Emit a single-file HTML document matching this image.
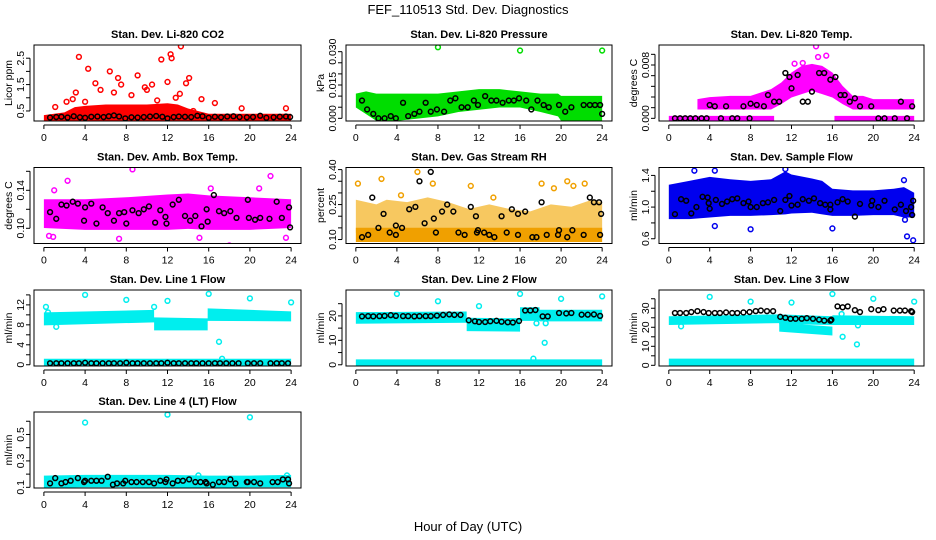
<!DOCTYPE html>
<html><head><meta charset="utf-8">
<style>
html,body{margin:0;padding:0;background:#fff;}
svg{display:block;font-family:"Liberation Sans",sans-serif;}
</style></head>
<body>
<svg id="chart" width="936" height="540" viewBox="0 0 936 540">
<text x="468" y="14" text-anchor="middle" font-size="13">FEF_110513  Std. Dev. Diagnostics</text>
<text x="468" y="531" text-anchor="middle" font-size="13">Hour of Day (UTC)</text>
</svg>
<script>
// ---- data (hours 0-24) ----
const xTicks = [0,4,8,12,16,20,24];

// P1 CO2
const co2BandH = [0,2,3,4,6,8,10,12,13,14,15,16,18,20,24];
const co2BandLo = [0.15,0.15,0.15,0.15,0.15,0.15,0.15,0.15,0.15,0.15,0.15,0.15,0.15,0.15,0.15];
const co2BandHi = [0.25,0.35,0.55,0.6,0.65,0.65,0.65,0.7,0.65,0.5,0.4,0.3,0.3,0.3,0.3];
const co2OutH = [3.4,4.3,6.4,7.2,5.0,9.1,11.4,12.3,12.4,13.3,12.0,14.1,13.8,10.5,15.3,16.6,3.1,1.1,19.2,23.5,7.5,9.8,2.8,4.0,5.5,6.8,8.5,10.0,11.0,12.8,13.2,14.5,2.2];
const co2OutV = [2.55,2.1,2.0,1.75,1.55,1.85,2.45,2.65,2.5,2.95,1.6,1.75,1.55,1.5,0.95,0.8,1.2,0.65,0.6,0.6,1.5,1.4,0.95,0.85,1.3,1.2,1.1,1.3,0.9,1.0,1.15,0.5,0.85];
const co2BlkH = [0.6,1.2,1.7,2.3,2.9,3.5,4.0,4.6,5.2,5.8,6.3,6.8,7.3,7.9,8.5,9.1,9.7,10.3,10.9,11.5,12.0,12.6,13.1,13.7,14.3,14.9,15.4,16.0,16.6,17.2,17.8,18.4,19.0,19.7,20.3,21.0,21.6,22.3,22.9,23.5,23.9];
const co2BlkV = [0.25,0.27,0.28,0.25,0.3,0.26,0.24,0.28,0.29,0.27,0.3,0.33,0.29,0.22,0.26,0.25,0.27,0.29,0.31,0.28,0.22,0.27,0.29,0.28,0.27,0.32,0.3,0.24,0.28,0.26,0.29,0.3,0.27,0.26,0.27,0.32,0.24,0.26,0.28,0.29,0.27];

// P2 Pressure
const prBandH = [0,1,2,4,6,8,10,12,14,16,18,19.7,20,22,24];
const prBandLo = [0.006,0.003,0.0,0.0,0.001,0.002,0.004,0.005,0.006,0.006,0.004,0.002,0.0,0.0,0.0];
const prBandHi = [0.010,0.011,0.010,0.010,0.010,0.010,0.011,0.012,0.012,0.011,0.010,0.010,0.009,0.009,0.009];
const prOutH = [8,16,24];
const prOutV = [0.032,0.0305,0.0305];
const prBlkH = [0.6,1.1,1.7,2.2,2.8,3.4,3.9,4.6,5.1,5.7,6.2,6.8,7.3,7.9,8.6,9.2,9.7,10.3,10.9,11.5,11.9,12.6,13.2,13.7,14.3,14.9,15.4,15.9,16.6,17.1,17.7,18.3,18.8,19.8,20.4,21.0,22.2,22.8,23.3,23.8,24.0];
const prBlkV = [0.008,0.004,0.002,0.0,0.0,0.001,0.0,0.007,0.001,0.002,0.003,0.007,0.003,0.004,0.003,0.008,0.009,0.005,0.005,0.008,0.006,0.010,0.008,0.008,0.007,0.008,0.008,0.009,0.008,0.004,0.008,0.006,0.005,0.006,0.003,0.005,0.006,0.006,0.006,0.006,0.002];

// P3 Li-820 Temp
const tpBandH = [2.8,4,6,8,9,10,11,12,13,14,15,16,17,18,19,20,24];
const tpBandLo = [0.0017,0.0017,0.0017,0.0017,0.0017,0.0017,0.0025,0.0035,0.004,0.0045,0.004,0.0035,0.0025,0.0017,0.0017,0.0017,0.0017];
const tpBandHi = [0.0025,0.0028,0.003,0.003,0.0035,0.004,0.005,0.0065,0.0075,0.0078,0.0075,0.0065,0.0045,0.003,0.003,0.0025,0.0025];
const tpZeroStart = [0,16.2];
const tpZeroEnd = [10.3,24];
const tpOutH = [14.4,14.6,15.4,12.3,13.1];
const tpOutV = [0.0108,0.0092,0.0094,0.0082,0.0083];
const tpBlkH = [0.6,1.1,1.6,2.1,2.6,3.2,3.7,4.0,4.5,5.1,5.6,6.2,6.7,7.3,7.9,8.0,8.6,9.3,9.7,10.3,10.8,11.4,11.8,12.0,12.6,13.1,13.6,14.0,14.7,15.2,15.8,16.3,16.8,17.2,17.7,18.2,18.7,19.8,20.5,21.1,22.1,22.7,23.3,23.8];
const tpBlkV = [0,0,0,0,0,0,0,0.002,0.0018,0,0.0018,0,0,0.0018,0,0.0022,0.002,0.0018,0.0035,0.0025,0.0025,0.0068,0.0062,0.0045,0.0065,0.0025,0.0025,0.004,0.0068,0.0068,0.0058,0.0062,0.0035,0.0035,0.0025,0.003,0.0018,0.0018,0,0,0,0.0025,0,0.0018];

// P4 Amb Box Temp
const abBandH = [0,4,8,12,14,16,20,24];
const abBandLo = [0.103,0.101,0.101,0.101,0.102,0.101,0.101,0.103];
const abBandHi = [0.128,0.128,0.130,0.133,0.134,0.132,0.130,0.128];
const abOutH = [0.5,0.9,2.3,8.6,18.0,22.0,20.9,16.2,1.0,7.3,15.1,23.5];
const abOutV = [0.092,0.091,0.150,0.162,0.082,0.155,0.142,0.142,0.140,0.089,0.090,0.090];
const abBlkH = [0.6,1.2,1.7,2.2,2.8,3.3,3.9,4.0,4.6,5.1,5.7,6.2,6.8,7.3,7.8,8.0,8.6,9.2,9.7,10.2,10.8,11.3,11.8,11.9,12.5,13.1,13.7,14.2,14.7,15.3,15.8,15.9,16.5,17.0,17.5,18.1,18.7,19.8,19.9,20.5,21.0,21.9,22.6,23.1,23.8,23.9];
const abBlkV = [0.117,0.110,0.125,0.124,0.128,0.126,0.108,0.122,0.126,0.105,0.122,0.116,0.108,0.116,0.117,0.105,0.119,0.116,0.120,0.123,0.106,0.119,0.112,0.105,0.125,0.130,0.113,0.108,0.113,0.102,0.120,0.107,0.135,0.118,0.116,0.118,0.111,0.130,0.111,0.109,0.111,0.110,0.128,0.111,0.122,0.101];

// P5 Gas Stream RH
const rhBandH = [0,4,8,12,16,20,24];
const rhBandLo = [0.10,0.10,0.10,0.10,0.10,0.10,0.10];
const rhBandHi = [0.14,0.14,0.14,0.14,0.14,0.14,0.14];
const rhUpH = [0,2,3,5,7,9,11,13,15,17,19,21,23,24];
const rhUpHi = [0.26,0.24,0.26,0.25,0.27,0.25,0.22,0.24,0.22,0.21,0.24,0.23,0.26,0.25];
const rhOutH = [0.2,2.5,6,7.5,11.2,18.1,19.3,20.6,22.3,21.2,4.4,13.4];
const rhOutV = [0.34,0.36,0.39,0.34,0.33,0.34,0.32,0.35,0.34,0.33,0.29,0.28];
const rhBlkH = [0.6,1.2,1.6,2.2,2.7,3.3,3.9,3.9,4.5,5.2,5.8,6.2,6.7,7.3,7.6,7.8,8.4,8.9,9.5,10.0,10.6,11.2,11.7,11.8,11.9,12.5,13.0,13.5,14.2,14.7,15.2,15.8,15.8,16.5,17.2,17.6,18.1,18.6,19.7,19.8,20.6,21.1,22.2,22.8,23.2,23.7,23.8,23.9];
const rhBlkV = [0.11,0.12,0.28,0.15,0.21,0.13,0.16,0.12,0.15,0.23,0.24,0.35,0.17,0.39,0.19,0.13,0.22,0.25,0.22,0.13,0.12,0.24,0.20,0.13,0.14,0.13,0.12,0.11,0.20,0.13,0.23,0.21,0.12,0.22,0.11,0.11,0.26,0.12,0.12,0.14,0.11,0.14,0.12,0.28,0.26,0.26,0.12,0.21];

// P6 Sample Flow
const sfBandH = [0,2,4,6,8,10,11.4,12,14,15,16,18,20,22,23,24];
const sfBandLo = [0.88,0.88,0.90,0.92,0.92,0.93,0.94,0.95,0.96,0.94,0.92,0.92,0.93,0.93,0.90,0.90];
const sfBandHi = [1.25,1.3,1.35,1.32,1.3,1.32,1.42,1.38,1.33,1.3,1.2,1.18,1.18,1.2,1.22,1.15];
const sfOutH = [4.5,8,16,23.3,23.9,11.4,2.5,4.5,23,23.1];
const sfOutV = [0.76,0.72,0.73,0.63,0.58,1.48,1.46,1.46,1.34,0.84];
const sfBlkH = [0.6,1.2,1.7,2.2,2.7,3.3,3.8,3.9,4.0,4.6,5.2,5.7,6.2,6.7,7.3,7.8,8.0,8.6,9.2,9.7,10.3,10.9,11.4,11.8,12.0,12.6,13.1,13.7,14.2,14.8,15.3,15.8,15.8,16.5,17.0,17.5,18.2,18.7,19.8,19.9,20.5,21.1,22.1,22.7,23.2,23.7,23.8,23.9];
const sfBlkV = [0.91,1.10,1.08,0.92,1.00,1.13,1.12,1.05,0.98,1.09,1.04,1.07,1.10,1.11,1.05,1.07,1.00,1.00,1.05,1.06,1.09,0.95,1.09,1.14,1.02,1.03,1.10,1.08,1.11,1.05,1.03,0.97,1.03,1.06,1.10,1.07,0.88,1.04,1.02,1.08,1.00,1.08,0.97,1.03,0.95,1.00,0.90,1.08];

// P7 Line 1 Flow
const l1BandH = [0,10.7,10.7,15.9,15.9,24];
const l1BandLo = [8.4,9.0,7.4,7.4,9.3,9.2];
const l1BandHi = [10.0,10.5,9.0,8.8,10.8,10.2];
const l1ZeroLo = [0,0,0,0,0,0];
const l1ZeroHi = [0.7,0.7,0.7,0.7,0.7,0.7];
const l1OutH = [4,8,12,16,20,24,10.7,0.2,17,17.3,0.4,1.2];
const l1OutV = [14,13,12.8,14.2,13.3,12.5,11.6,11.6,4.6,1.2,10.5,7.6];
const l1BlkH = [0.6,1.2,1.7,2.3,2.9,3.4,4.0,4.6,5.1,5.7,6.3,6.8,7.4,8.0,8.6,9.1,9.7,10.3,10.9,11.4,12.0,12.6,13.1,13.7,14.3,14.8,15.4,16.0,16.6,17.1,17.7,18.3,18.9,19.8,20.4,21.0,22.0,22.6,23.1,23.7];
const l1BlkV = [0.3,0.3,0.3,0.3,0.3,0.3,0.4,0.3,0.3,0.3,0.3,0.3,0.3,0.4,0.3,0.3,0.3,0.3,0.3,0.3,0.4,0.3,0.3,0.3,0.3,0.3,0.3,0.3,0.3,0.3,0.3,0.3,0.3,0.3,0.3,0.3,0.3,0.3,0.3,0.3];

// P8 Line 2 Flow
const l2BandH = [0,10.8,10.8,16,16,17.9,17.9,24];
const l2BandLo = [17.8,18.2,14.8,14.6,19.0,19.0,18.8,18.8];
const l2BandHi = [20.5,20.8,18.2,18.0,22.5,22.5,21.5,21.5];
const l2ZeroLo = [0,0,0,0,0,0,0,0];
const l2ZeroHi = [1.2,1.2,1.2,1.2,1.2,1.2,1.2,1.2];
const l2OutH = [4,8,12,16,20,24,17.3,18.4,17.6,18.5];
const l2OutV = [29,26,24,29,27,28,2.5,9,17,17];
const l2BlkH = [0.6,1.2,1.7,2.3,2.8,3.4,3.9,4.6,5.1,5.7,6.2,6.8,7.3,7.9,8.5,9.1,9.6,10.2,11.0,11.6,12.0,12.6,13.1,13.7,14.2,14.8,15.3,15.9,16.5,17.0,17.5,18.2,18.7,19.8,20.5,21.0,22.0,22.6,23.2,23.8];
const l2BlkV = [19.8,19.9,19.8,19.9,20.0,20.3,20.0,19.9,19.9,19.8,19.9,19.9,19.9,20.1,20.4,20.6,20.4,20.4,18.2,17.8,17.5,17.5,17.8,18.0,17.6,17.4,17.3,17.9,22.2,22.2,22.4,19.8,19.8,21.2,21.0,21.2,20.5,20.5,20.6,20.0];

// P9 Line 3 Flow
const l3BandH = [0,10.8,10.8,16,16,24];
const l3BandLo = [22.5,23.5,23.0,22.5,22.5,22.5];
const l3BandHi = [24.5,25.5,25.5,24.5,25.0,24.5];
const l3Band2H = [10.8,16];
const l3Band2Lo = [19.0,17.0];
const l3Band2Hi = [21.0,19.0];
const l3ZeroH = [0,24];
const l3ZeroLo = [0,0];
const l3ZeroHi = [2.2,2.2];
const l3OutH = [4,8,12,16,20,24,17,18.4,16.9,18.5,1.2];
const l3OutV = [36,33.5,33,37.5,35,33.5,15,11,27,21,20.5];
const l3BlkH = [0.6,1.1,1.7,2.2,2.8,3.4,3.9,4.5,5.0,5.6,6.2,6.7,7.3,7.9,8.5,9.0,9.6,10.2,10.9,11.4,11.9,12.4,13.0,13.5,14.1,14.7,15.2,15.8,15.9,16.5,17.0,17.5,18.2,18.7,19.8,20.5,21.0,22.0,22.6,23.1,23.7,23.8];
const l3BlkV = [27.5,27.5,27.5,28.0,28.5,28.0,27.5,27.5,27.5,27.8,27.5,27.5,27.8,28.0,28.5,28.8,28.5,28.5,25.5,25.0,24.5,24.5,24.5,24.8,24.5,24.0,23.5,23.5,24.0,31.0,30.5,31.0,29.0,28.0,29.5,29.0,29.5,28.8,28.8,28.8,28.5,28.0];

// P10 Line 4 (LT) Flow
const l4BandH = [0,4,8,12,16,20,24];
const l4BandLo = [0.115,0.12,0.12,0.115,0.115,0.12,0.12];
const l4BandHi = [0.17,0.175,0.175,0.175,0.17,0.17,0.175];
const l4OutH = [4,12,20,15,23.6];
const l4OutV = [0.59,0.65,0.63,0.19,0.19];
const l4BlkH = [0.6,1.1,1.7,2.1,2.6,3.3,3.9,4.0,4.6,5.1,5.6,6.2,6.7,7.1,7.7,7.9,8.5,9.0,9.6,10.2,10.7,11.3,11.8,11.9,12.5,13.0,13.5,14.1,14.7,15.2,15.7,15.8,16.4,17.0,17.5,18.1,18.6,19.7,19.8,20.4,21.0,22.2,22.7,23.2,23.7,23.8];
const l4BlkV = [0.13,0.17,0.13,0.14,0.15,0.17,0.14,0.15,0.15,0.15,0.15,0.18,0.12,0.13,0.13,0.15,0.14,0.14,0.14,0.14,0.13,0.15,0.14,0.16,0.13,0.15,0.15,0.16,0.14,0.14,0.14,0.13,0.12,0.14,0.14,0.16,0.13,0.14,0.14,0.14,0.13,0.14,0.14,0.16,0.16,0.13];

// ---- layout ----
const colL = [34, 346, 659], colR = [301, 612, 924];
const rowT = [45, 167.5, 290, 412], boxH = 76;
const NS = 'http://www.w3.org/2000/svg';
const svg = document.getElementById('chart');
function mk(tag, attrs, parent) {
  const e = document.createElementNS(NS, tag);
  for (const k in attrs) e.setAttribute(k, attrs[k]);
  (parent || svg).appendChild(e);
  return e;
}

const panels = [
  {key:'co2', title:'Stan. Dev. Li-820 CO2', ylab:'Licor ppm', c:0, r:0, ylim:[0.12,3.0], ticks:[0.5,1,1.5,2,2.5], labels:{0.5:'0.5',1.5:'1.5',2.5:'2.5'}, color:'#ff0000',
   bands:[[co2BandH,co2BandLo,co2BandHi]], outH:co2OutH, outV:co2OutV, bH:co2BlkH, bV:co2BlkV},
  {key:'pressure', title:'Stan. Dev. Li-820 Pressure', ylab:'kPa', c:1, r:0, ylim:[-0.0012,0.033], ticks:[0,0.005,0.01,0.015,0.02,0.025,0.03], labels:{0:'0.000',0.015:'0.015',0.03:'0.030'}, color:'#00dd00',
   bands:[[prBandH,prBandLo,prBandHi]], outH:prOutH, outV:prOutV, bH:prBlkH, bV:prBlkV},
  {key:'li820-temp', title:'Stan. Dev. Li-820 Temp.', ylab:'degrees C', c:2, r:0, ylim:[-0.0004,0.011], ticks:[0,0.0016,0.0032,0.0048,0.0064,0.008,0.0096], labels:{0:'0.000',0.008:'0.008'}, color:'#ff00ff',
   bands:[[tpBandH,tpBandLo,tpBandHi]], zeroSeg:[tpZeroStart,tpZeroEnd], outH:tpOutH, outV:tpOutV, bH:tpBlkH, bV:tpBlkV},
  {key:'amb-box-temp', title:'Stan. Dev. Amb. Box Temp.', ylab:'degrees C', c:0, r:1, ylim:[0.084,0.164], ticks:[0.10,0.12,0.14,0.16], labels:{0.1:'0.10',0.14:'0.14'}, color:'#ff00ff',
   bands:[[abBandH,abBandLo,abBandHi]], outH:abOutH, outV:abOutV, bH:abBlkH, bV:abBlkV},
  {key:'gas-rh', title:'Stan. Dev. Gas Stream RH', ylab:'percent', c:1, r:1, ylim:[0.083,0.409], ticks:[0.10,0.15,0.20,0.25,0.30,0.35,0.40], labels:{0.1:'0.10',0.25:'0.25',0.4:'0.40'}, color:'#f0a000',
   bands:[[rhUpH,rhUpH.map(()=>0.14),rhUpHi,'#f7c860'],[rhBandH,rhBandLo,rhBandHi]], outH:rhOutH, outV:rhOutV, bH:rhBlkH, bV:rhBlkV},
  {key:'sample-flow', title:'Stan. Dev. Sample Flow', ylab:'ml/min', c:2, r:1, ylim:[0.54,1.5], ticks:[0.6,0.8,1.0,1.2,1.4], labels:{0.6:'0.6',1:'1.0',1.4:'1.4'}, color:'#0000ee',
   bands:[[sfBandH,sfBandLo,sfBandHi]], outH:sfOutH, outV:sfOutV, bH:sfBlkH, bV:sfBlkV},
  {key:'line1-flow', title:'Stan. Dev. Line 1 Flow', ylab:'ml/min', c:0, r:2, ylim:[-0.25,14.98], ticks:[0,2,4,6,8,10,12,14], labels:{0:'0',4:'4',8:'8',12:'12'}, color:'#00eeee',
   bands:[[l1BandH,l1BandLo,l1BandHi],[l1BandH,l1ZeroLo,l1ZeroHi]], outH:l1OutH, outV:l1OutV, bH:l1BlkH, bV:l1BlkV},
  {key:'line2-flow', title:'Stan. Dev. Line 2 Flow', ylab:'ml/min', c:1, r:2, ylim:[-0.5,30.6], ticks:[0,5,10,15,20,25], labels:{0:'0',10:'10',20:'20'}, color:'#00eeee',
   bands:[[l2BandH,l2BandLo,l2BandHi],[l2BandH,l2ZeroLo,l2ZeroHi]], outH:l2OutH, outV:l2OutV, bH:l2BlkH, bV:l2BlkV},
  {key:'line3-flow', title:'Stan. Dev. Line 3 Flow', ylab:'ml/min', c:2, r:2, ylim:[-0.36,39.6], ticks:[0,5,10,15,20,25,30,35], labels:{0:'0',10:'10',20:'20',30:'30'}, color:'#00eeee',
   bands:[[l3BandH,l3BandLo,l3BandHi],[l3Band2H,l3Band2Lo,l3Band2Hi],[l3ZeroH,l3ZeroLo,l3ZeroHi]], outH:l3OutH, outV:l3OutV, bH:l3BlkH, bV:l3BlkV},
  {key:'line4-flow', title:'Stan. Dev. Line 4 (LT) Flow', ylab:'ml/min', c:0, r:3, ylim:[0.095,0.67], ticks:[0.1,0.2,0.3,0.4,0.5,0.6], labels:{0.1:'0.1',0.3:'0.3',0.5:'0.5'}, color:'#00eeee',
   bands:[[l4BandH,l4BandLo,l4BandHi]], outH:l4OutH, outV:l4OutV, bH:l4BlkH, bV:l4BlkV}
];

panels.forEach(p => {
  const L = colL[p.c], R = colR[p.c], T = rowT[p.r], B = T + boxH;
  const xs = h => L + (h + 0.96) / 25.92 * (R - L);
  const ys = v => B - (v - p.ylim[0]) / (p.ylim[1] - p.ylim[0]) * boxH;
  const g = mk('g', {});
  
  
  const t = mk('text', {x:(L+R)/2, y:T-7, 'text-anchor':'middle', 'font-size':'11', 'font-weight':'bold'}, g);
  t.textContent = p.title;
  
  
  const yl = mk('text', {x:0, y:0, transform:`translate(${L-22},${(T+B)/2}) rotate(-90)`, 'text-anchor':'middle', 'font-size':'10.5'}, g);
  yl.textContent = p.ylab;
  
  
  const dg = mk('g', {}, g);
  const clip = 'clip-' + p.key;
  const cp = mk('clipPath', {id: clip}, g);
  mk('rect', {x:L, y:T, width:R-L, height:boxH}, cp);
  dg.setAttribute('clip-path', `url(#${clip})`);
  p.bands.forEach(b => {
    const [H, lo, hi, col] = b;
    let pts = H.map((h,i) => `${xs(h)},${ys(hi[i])-2.5}`);
    for (let i = H.length-1; i >= 0; i--) pts.push(`${xs(H[i])},${ys(lo[i])+2.5}`);
    const poly = mk('polygon', {points: pts.join(' '), fill: col || p.color}, dg);
    
    
  });
  if (p.zeroSeg) {
    p.zeroSeg[0].forEach((s, i) => {
      const ln = mk('line', {x1:xs(s), x2:xs(p.zeroSeg[1][i]), y1:ys(0), y2:ys(0), stroke:p.color, 'stroke-width':5}, dg);
      
      
    });
  }
  p.outH.forEach((h, i) => {
    const c = mk('circle', {cx:xs(h), cy:ys(p.outV[i]), r:2.4, fill:'none', stroke:p.color, 'stroke-width':1.5}, dg);
    
    
  });
  p.bH.forEach((h, i) => {
    const c = mk('circle', {cx:xs(h), cy:ys(p.bV[i]), r:2.4, fill:'none', stroke:'#000', 'stroke-width':1.5}, dg);
    
    
  });
  const box = mk('rect', {x:L, y:T, width:R-L, height:boxH, fill:'none', stroke:'#000', 'stroke-width':1}, g);
  
  
  mk('line', {x1:xs(0), x2:xs(24), y1:B+4, y2:B+4, stroke:'#000'}, g);
  xTicks.forEach(h => {
    mk('line', {x1:xs(h), x2:xs(h), y1:B+4, y2:B+8, stroke:'#000'}, g);
    const tl = mk('text', {x:xs(h), y:B+20, 'text-anchor':'middle', 'font-size':'10.5'}, g);
    tl.textContent = h;
    
    
  });
  const t0 = p.ticks[0], t1 = p.ticks[p.ticks.length-1];
  mk('line', {x1:L-4, x2:L-4, y1:ys(t0), y2:ys(t1), stroke:'#000'}, g);
  p.ticks.forEach(v => {
    mk('line', {x1:L-8, x2:L-4, y1:ys(v), y2:ys(v), stroke:'#000'}, g);
    const key = Object.keys(p.labels).find(k => Math.abs(parseFloat(k) - v) < 1e-9);
    if (key !== undefined) {
      const tl = mk('text', {x:0, y:0, transform:`translate(${L-10},${ys(v)}) rotate(-90)`, 'text-anchor':'middle', 'font-size':'10.5'}, g);
      tl.textContent = p.labels[key];
      
      
    }
  });
});
</script>
</body></html>
